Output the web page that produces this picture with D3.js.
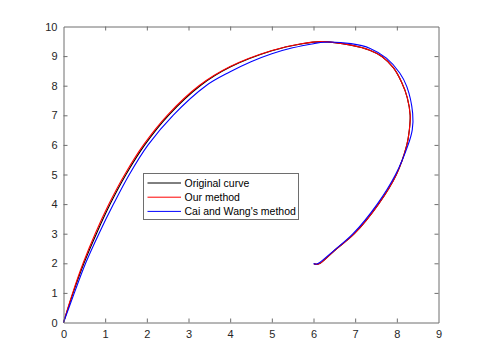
<!DOCTYPE html>
<html>
<head>
<meta charset="utf-8">
<script src="https://cdn.jsdelivr.net/npm/d3@7"></script>
<style>
  html, body { margin: 0; padding: 0; background: #fff; }
  svg { display: block; }
  text { font-family: "Liberation Sans", Arial, Helvetica, sans-serif; }
</style>
</head>
<body>
<svg id="chart" width="485" height="363"></svg>
<script>
// ---- data ----
const xTicks = [0, 1, 2, 3, 4, 5, 6, 7, 8, 9];
const yTicks = [0, 1, 2, 3, 4, 5, 6, 7, 8, 9, 10];
const seriesNames = ["Original curve", "Our method", "Cai and Wang's method"];
const seriesColors = ["#000000", "#ff0000", "#0000ff"];

const originalX = [0, 0.23, 0.49, 0.79, 1.12, 1.5, 1.95, 2.52, 3.28, 4.0, 5.0, 5.7, 6.2, 6.9, 7.35, 7.65, 7.92, 8.12, 8.25, 8.32, 8.3, 8.24, 7.99, 7.56, 6.98, 6.52, 6.16, 6.08, 6.01];
const originalY = [0, 1, 2, 3, 4, 5, 6, 7, 8, 8.63, 9.18, 9.41, 9.49, 9.37, 9.2, 8.98, 8.6, 8.1, 7.6, 7.0, 6.5, 6.0, 5.0, 4.0, 3.0, 2.45, 2.0, 1.965, 1.98];

const oursX = [0, 0.22, 0.47, 0.76, 1.09, 1.47, 1.92, 2.49, 3.25, 4.0, 5.0, 5.7, 6.2, 6.9, 7.35, 7.65, 7.92, 8.12, 8.25, 8.32, 8.3, 8.24, 7.99, 7.56, 6.98, 6.52, 6.16, 6.08, 6.01];
const oursY = [0, 1, 2, 3, 4, 5, 6, 7, 8, 8.65, 9.19, 9.42, 9.49, 9.37, 9.2, 8.98, 8.6, 8.1, 7.6, 7.0, 6.5, 6.0, 5.0, 4.0, 3.0, 2.45, 2.0, 1.965, 1.98];

const caiX = [0, 0.26, 0.53, 0.85, 1.2, 1.58, 2.03, 2.63, 3.42, 4.0, 4.5, 5.0, 5.5, 6.0, 6.25, 6.9, 7.36, 7.75, 8.07, 8.24, 8.38, 8.37, 8.27, 7.97, 7.53, 6.95, 6.49, 6.14, 6.06, 6.0];
const caiY = [0, 1, 2, 3, 4, 5, 6, 7, 8, 8.47, 8.81, 9.08, 9.28, 9.42, 9.47, 9.42, 9.26, 8.93, 8.43, 7.97, 7.07, 6.51, 6.0, 5.0, 4.0, 3.0, 2.43, 2.02, 1.97, 1.99];

// ---- layout ----
const svg = d3.select("#chart");
const padL = 63.5, padR = 438.5, padT = 26.5, padB = 322.5;
const x = d3.scaleLinear().domain([0, 9]).range([padL, padR]);
const y = d3.scaleLinear().domain([0, 10]).range([padB, padT]);
const axisColor = "#6e6e6e";
const textColor = "#262626";

svg.append("rect").attr("x", padL).attr("y", padT)
  .attr("width", padR - padL).attr("height", padB - padT).attr("fill", "#fff");

// ---- curves ----
const line = d3.line()
  .x(d => x(d[0])).y(d => y(d[1]))
  .curve(d3.curveCatmullRom.alpha(0.5));

const series = [
  d3.zip(originalX, originalY),
  d3.zip(oursX, oursY),
  d3.zip(caiX, caiY)
];
const plot = svg.append("g");
series.forEach((pts, i) => {
  plot.append("path").attr("d", line(pts))
    .attr("fill", "none").attr("stroke", seriesColors[i])
    .attr("stroke-width", 1.1).attr("stroke-linejoin", "round");
});

// ---- axes (box with inward ticks on all sides) ----
function styleAxis(g) {
  g.selectAll(".domain").attr("stroke", axisColor).attr("stroke-width", 1);
  g.selectAll(".tick line").attr("stroke", axisColor).attr("stroke-width", 1);
  g.selectAll(".tick text").attr("fill", textColor)
    .style("font-size", "11px")
    .style("font-family", "'Liberation Sans', Arial, Helvetica, sans-serif");
}
const gxB = svg.append("g").attr("transform", `translate(0,${padB})`)
  .call(d3.axisBottom(x).tickValues(xTicks).tickFormat(d3.format("d"))
    .tickSizeInner(-4).tickSizeOuter(0).tickPadding(8));
styleAxis(gxB);
const gxT = svg.append("g").attr("transform", `translate(0,${padT})`)
  .call(d3.axisTop(x).tickValues(xTicks).tickFormat("")
    .tickSizeInner(-4).tickSizeOuter(0));
styleAxis(gxT);
const gyL = svg.append("g").attr("transform", `translate(${padL},0)`)
  .call(d3.axisLeft(y).tickValues(yTicks).tickFormat(d3.format("d"))
    .tickSizeInner(-4).tickSizeOuter(0).tickPadding(6));
styleAxis(gyL);
const gyR = svg.append("g").attr("transform", `translate(${padR},0)`)
  .call(d3.axisRight(y).tickValues(yTicks).tickFormat("")
    .tickSizeInner(-4).tickSizeOuter(0));
styleAxis(gyR);
[gxB, gxT].forEach(g => g.selectAll(".tick").filter(d => d === 0 || d === 9).select("line").remove());
[gyL, gyR].forEach(g => g.selectAll(".tick").filter(d => d === 0 || d === 10).select("line").remove());

// ---- legend ----
const leg = svg.append("g").attr("transform", "translate(143.5,173.5)");
leg.append("rect").attr("width", 155).attr("height", 46)
  .attr("fill", "#fff").attr("stroke", axisColor).attr("stroke-width", 1);
seriesNames.forEach((name, i) => {
  const cy = 9.5 + i * 14.2;
  leg.append("line").attr("x1", 4).attr("x2", 37.5).attr("y1", cy).attr("y2", cy)
    .attr("stroke", seriesColors[i]).attr("stroke-width", 1);
  leg.append("text").attr("x", 41).attr("y", cy).attr("dy", "0.35em")
    .attr("fill", "#000").style("font-size", "10.5px").text(name);
});
</script>
</body>
</html>
